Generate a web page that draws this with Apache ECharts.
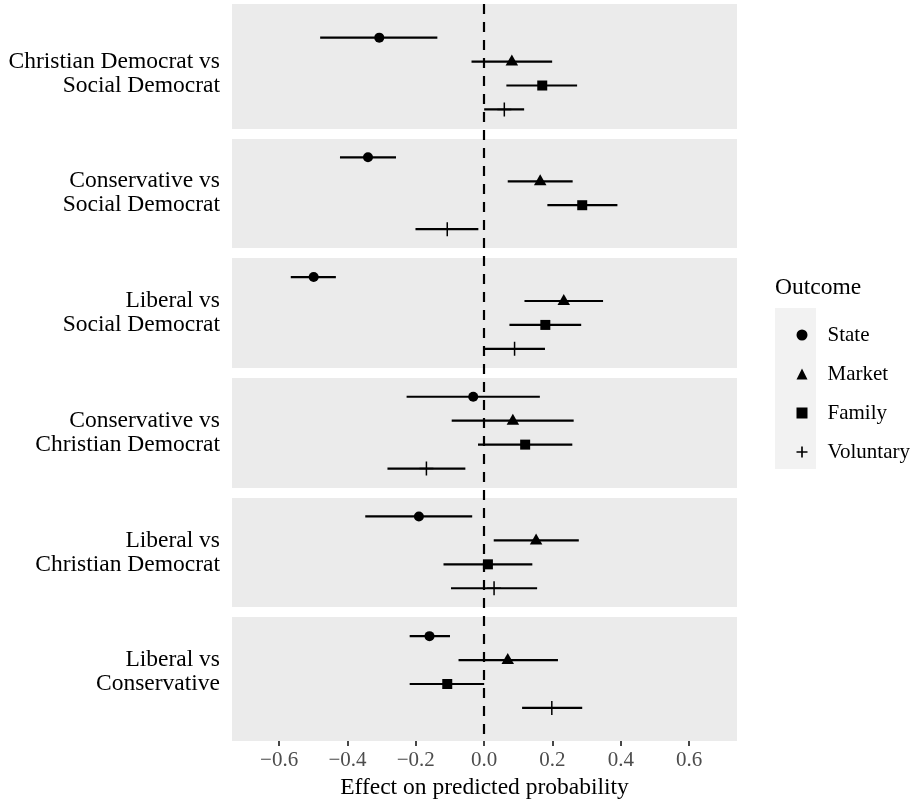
<!DOCTYPE html>
<html>
<head>
<meta charset="utf-8">
<script src="https://cdn.jsdelivr.net/npm/echarts@6/dist/echarts.min.js"></script>
<style>html,body{margin:0;padding:0;background:#fff}#c{width:918px;height:803px}</style>
</head>
<body>
<div id="c"></div>
<script>
const groups = ['Christian Democrat vs\nSocial Democrat', 'Conservative vs\nSocial Democrat', 'Liberal vs\nSocial Democrat', 'Conservative vs\nChristian Democrat', 'Liberal vs\nChristian Democrat', 'Liberal vs\nConservative'];
const outcomes = ['State', 'Market', 'Family', 'Voluntary'];
const stateEst  = [-0.307, -0.340, -0.499, -0.032, -0.191, -0.160];
const stateLow  = [-0.480, -0.422, -0.566, -0.227, -0.348, -0.218];
const stateHigh = [-0.137, -0.258, -0.434,  0.163, -0.035, -0.100];
const marketEst  = [0.081, 0.164, 0.233,  0.084, 0.152,  0.069];
const marketLow  = [-0.037, 0.069, 0.118, -0.095, 0.028, -0.075];
const marketHigh = [0.199, 0.259, 0.348,  0.262, 0.277,  0.216];
const familyEst  = [0.170, 0.287, 0.179,  0.120,  0.011, -0.108];
const familyLow  = [0.065, 0.185, 0.074, -0.018, -0.119, -0.218];
const familyHigh = [0.272, 0.390, 0.284,  0.258,  0.141,  0.000];
const volEst  = [0.059, -0.108, 0.089, -0.169,  0.029, 0.198];
const volLow  = [0.000, -0.201, 0.000, -0.283, -0.097, 0.111];
const volHigh = [0.117, -0.017, 0.178, -0.055,  0.155, 0.287];
const xTicks = [-0.6, -0.4, -0.2, 0, 0.2, 0.4, 0.6];

const est = [stateEst, marketEst, familyEst, volEst];
const low = [stateLow, marketLow, familyLow, volLow];
const high = [stateHigh, marketHigh, familyHigh, volHigh];
const dodge = [-0.3, -0.1, 0.1, 0.3];
const plusPath = 'path://M6.25,0h1.5v14h-1.5zM0,6.25h14v1.5h-14z';
const plusLegendPath = 'path://M5.1,0h1.8v12h-1.8zM0,5.1h12v1.8h-12z';
const symbols = ['circle', 'triangle', 'rect', plusPath];
const legendIcons = ['circle', 'triangle', 'rect', plusLegendPath];
const symSizes = [10, [12.5, 11], 10, 14];
const symOffsets = [[0, 0], [0, -1.5], [0, 0], [0, 0]];
const FONT = "'Liberation Serif','Times New Roman',serif";

const chart = echarts.init(document.getElementById('c'), null, {renderer: 'canvas'});

const series = [];
// white separators between comparison groups
series.push({
  type: 'line', data: [], z: 1, silent: true,
  markLine: {
    silent: true, symbol: 'none', label: {show: false}, animation: false,
    lineStyle: {color: '#ffffff', width: 10, type: 'solid'},
    emphasis: {disabled: true},
    data: groups.slice(1).map((g, i) => ({yAxis: i + 1.5}))
  }
});
// zero line
series.push({
  type: 'line', data: [], z: 2, silent: true,
  markLine: {
    silent: true, symbol: 'none', label: {show: false}, animation: false,
    lineStyle: {color: '#000000', width: 2.2, type: [10, 8]},
    emphasis: {disabled: true},
    data: [{xAxis: 0}]
  }
});
outcomes.forEach((o, k) => {
  series.push({
    type: 'custom', name: o, z: 3, silent: true,
    encode: {x: [1, 2], y: 3},
    data: groups.map((g, i) => [est[k][i], low[k][i], high[k][i], i + 1 + dodge[k]]),
    renderItem: function (params, api) {
      const a = api.coord([api.value(1), api.value(3)]);
      const b = api.coord([api.value(2), api.value(3)]);
      return {type: 'line', shape: {x1: a[0], y1: a[1], x2: b[0], y2: b[1]},
        style: {stroke: '#000', lineWidth: 2.2}};
    }
  });
  series.push({
    type: 'scatter', name: o, z: 4, silent: true,
    symbol: symbols[k], symbolSize: symSizes[k], symbolOffset: symOffsets[k],
    itemStyle: {color: '#000', opacity: 1},
    data: groups.map((g, i) => [est[k][i], i + 1 + dodge[k]])
  });
});

chart.setOption({
  animation: false,
  title: {text: 'Outcome', left: 775, top: 276, padding: 0,
    textStyle: {fontFamily: FONT, fontSize: 23.5, fontWeight: 'normal', color: '#000'}},
  graphic: [{type: 'rect', left: 775, top: 308, shape: {width: 41, height: 161},
    style: {fill: '#f2f2f2'}, z: 0, silent: true}],
  legend: {
    orient: 'vertical', left: 791.5, top: 319.5, selectedMode: false,
    itemWidth: 11, itemHeight: 11, itemGap: 18,
    textStyle: {fontFamily: FONT, fontSize: 21, color: '#000', lineHeight: 21, padding: [0, 0, 0, 15]},
    data: outcomes.map((o, k) => ({name: o, icon: legendIcons[k],
      itemStyle: {color: '#000'}}))
  },
  grid: {left: 232, right: 181, top: 4, bottom: 62, show: true, backgroundColor: '#ebebeb', borderWidth: 0,
    containLabel: false, outerBoundsMode: 'none'},
  xAxis: {
    type: 'value', min: -0.738, max: 0.740,
    name: 'Effect on predicted probability', nameLocation: 'middle', nameGap: 31,
    nameTextStyle: {fontFamily: FONT, fontSize: 23.5, color: '#000'},
    axisLine: {show: false},
    splitLine: {show: false},
    axisTick: {show: true, length: 5, lineStyle: {color: '#333', width: 1.8}, customValues: xTicks},
    axisLabel: {customValues: xTicks, margin: 9, fontFamily: FONT, fontSize: 21, color: '#4d4d4d',
      formatter: v => (v < 0 ? '\u2212' : '') + Math.abs(v).toFixed(1)}
  },
  yAxis: {
    type: 'value', min: 0.419, max: 6.576, inverse: true,
    axisLine: {show: false}, axisTick: {show: false}, splitLine: {show: false},
    axisLabel: {customValues: [1, 2, 3, 4, 5, 6], margin: 12, fontFamily: FONT, fontSize: 23.5,
      color: '#000', align: 'right', lineHeight: 24,
      formatter: v => groups[Math.round(v) - 1]}
  },
  series: series
});
</script>
</body>
</html>
